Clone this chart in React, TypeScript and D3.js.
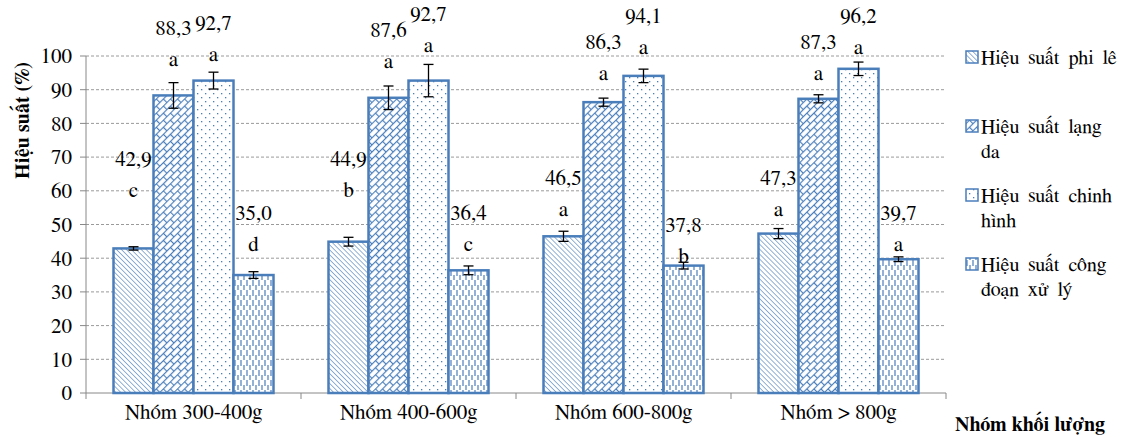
import React from "react";
import * as d3 from "d3";

const categories = ["Nhóm 300-400g", "Nhóm 400-600g", "Nhóm 600-800g", "Nhóm > 800g"];
const seriesNames = [
  ["Hiệu suất phi lê"],
  ["Hiệu suất lạng", "da"],
  ["Hiệu suất chinh", "hình"],
  ["Hiệu suất công", "đoạn xử lý"],
];
const yTicks = [0, 10, 20, 30, 40, 50, 60, 70, 80, 90, 100];

// values per series, one entry per group
const fillet = [42.9, 44.9, 46.5, 47.3];
const skinning = [88.3, 87.6, 86.3, 87.3];
const trimming = [92.7, 92.7, 94.1, 96.2];
const processing = [35.0, 36.4, 37.8, 39.7];

const filletErr = [0.5, 1.3, 1.5, 1.5];
const skinningErr = [3.8, 3.5, 1.2, 1.2];
const trimmingErr = [2.5, 4.8, 2.0, 2.0];
const processingErr = [1.0, 1.3, 1.0, 0.7];

const filletLetters = ["c", "b", "a", "a"];
const skinningLetters = ["a", "a", "a", "a"];
const trimmingLetters = ["a", "a", "a", "a"];
const processingLetters = ["d", "c", "b", "a"];

// where the data labels were dragged to (in % units)
const filletLabelAt = [69.4, 69.4, 63.8, 63.8];
const skinningLabelAt = [108.3, 107.7, 104.2, 104.2];
const trimmingLabelAt = [109.8, 112.5, 111.9, 111.9];
const processingLabelAt = [53.4, 53.4, 50.1, 53.4];

const series = [
  { values: fillet, err: filletErr, letters: filletLetters, labelAt: filletLabelAt, pat: "p-diag" },
  { values: skinning, err: skinningErr, letters: skinningLetters, labelAt: skinningLabelAt, pat: "p-brick" },
  { values: trimming, err: trimmingErr, letters: trimmingLetters, labelAt: trimmingLabelAt, pat: "p-dots" },
  { values: processing, err: processingErr, letters: processingLetters, labelAt: processingLabelAt, pat: "p-dash" },
];

const blue = "#4a7ebb";
const serifFont = `"FreeSerif", "Tinos", "Liberation Serif"`;
const tf = { fontFamily: serifFont };

const App = () => {
  const width = 1143, height = 439;
  const left = 86, right = 946, top = 56, bottom = 393;

  const x = d3.scaleBand().domain(categories).range([left, right]).padding(0);
  const barW = 40;
  const y = d3.scaleLinear().domain([0, 100]).range([bottom, top]);

  const fmt = (v: number) => v.toFixed(1).replace(".", ",");

  return (
    <svg width={width} height={height} style={{ position: "absolute", left: 0, top: 0, background: "#fff" }}>
      <defs>
        <pattern id="p-diag" width="3.5" height="3.5" patternUnits="userSpaceOnUse" patternTransform="rotate(-45)">
          <rect width="3.5" height="3.5" fill="#fff" />
          <line x1="0" y1="0" x2="0" y2="3.5" stroke={blue} strokeWidth="1.2" />
        </pattern>
        <pattern id="p-brick" width="10" height="10" patternUnits="userSpaceOnUse" patternTransform="rotate(-45)">
          <rect width="10" height="10" fill="#fff" />
          <line x1="0" y1="0.5" x2="10" y2="0.5" stroke={blue} strokeWidth="1.2" />
          <line x1="0" y1="5.5" x2="10" y2="5.5" stroke={blue} strokeWidth="1.2" />
          <line x1="0.5" y1="0" x2="0.5" y2="5" stroke={blue} strokeWidth="1.2" />
          <line x1="5.5" y1="5" x2="5.5" y2="10" stroke={blue} strokeWidth="1.2" />
        </pattern>
        <pattern id="p-dots" width="8" height="8" patternUnits="userSpaceOnUse">
          <rect width="8" height="8" fill="#fff" />
          <rect x="1" y="1" width="1.3" height="1.3" fill={blue} />
          <rect x="5" y="5" width="1.3" height="1.3" fill={blue} />
        </pattern>
        <pattern id="p-dash" width="6" height="10" patternUnits="userSpaceOnUse">
          <rect width="6" height="10" fill="#fff" />
          <line x1="1" y1="0" x2="1" y2="6" stroke={blue} strokeWidth="1.2" />
          <line x1="4" y1="5" x2="4" y2="10" stroke={blue} strokeWidth="1.2" />
        </pattern>
      </defs>

      {/* gridlines */}
      {yTicks.filter(t => t > 0).map(t => (
        <line key={t} x1={left} x2={right} y1={y(t)} y2={y(t)} stroke="#9a9a9a" strokeDasharray="3,2" strokeWidth="1" />
      ))}

      {/* y axis */}
      <line x1={left} x2={left} y1={top} y2={bottom} stroke="#888" />
      {yTicks.map(t => (
        <g key={t} transform={`translate(${left},${y(t)})`}>
          <line x1={-6} x2={0} stroke="#888" />
          <text x={-14} dy="0.35em" textAnchor="end" fontSize="21" style={tf}>{t}</text>
        </g>
      ))}

      {/* x axis */}
      <line x1={left} x2={right} y1={bottom} y2={bottom} stroke="#888" />
      {[...categories.map(c => x(c)!), right].map((v, i) => (
        <line key={i} x1={v} x2={v} y1={bottom} y2={bottom + 6} stroke="#888" />
      ))}
      {categories.map(c => (
        <text key={c} x={x(c)! + x.bandwidth() / 2} y={bottom + 26} textAnchor="middle" fontSize="21" style={tf}>{c}</text>
      ))}

      {/* bars */}
      {categories.map((c, gi) => {
        const start = x(c)! + (x.bandwidth() - barW * series.length) / 2;
        return series.map((s, si) => {
          const bx = start + si * barW;
          const v = s.values[gi];
          const e = s.err[gi];
          const cx = bx + barW / 2;
          const ly = y(s.labelAt[gi]);
          return (
            <g key={`${gi}-${si}`}>
              <rect x={bx} y={y(v)} width={barW} height={y(0) - y(v)} fill={`url(#${s.pat})`} stroke={blue} strokeWidth="2.5" />
              <line x1={cx} x2={cx} y1={y(v + e)} y2={y(v - e)} stroke="#000" strokeWidth="1.3" />
              <line x1={cx - 5} x2={cx + 5} y1={y(v + e)} y2={y(v + e)} stroke="#000" strokeWidth="1.3" />
              <line x1={cx - 5} x2={cx + 5} y1={y(v - e)} y2={y(v - e)} stroke="#000" strokeWidth="1.3" />
              <text x={cx} y={ly} dy="0.35em" textAnchor="middle" fontSize="21" style={tf}>{fmt(v)}</text>
              <text x={cx} y={ly + 31} dy="0.35em" textAnchor="middle" fontSize="21" style={tf}>{s.letters[gi]}</text>
            </g>
          );
        });
      })}

      {/* y title */}
      <text transform={`translate(22,${(top + 185) / 2}) rotate(-90)`} textAnchor="middle" dy="0.35em" fontSize="20" fontWeight="bold" style={tf}>Hiệu suất (%)</text>

      {/* x title */}
      <text x={1030} y={431} textAnchor="middle" fontSize="20" fontWeight="bold" style={tf}>Nhóm khối lượng</text>

      {/* legend */}
      {series.map((s, i) => {
        const ly = 57 + i * 69;
        return (
          <g key={i}>
            <rect x={966} y={ly - 6} width={12} height={12} fill={`url(#${s.pat})`} stroke={blue} strokeWidth="1.5" />
            {seriesNames[i].map((t, k) => (
              <text key={k} x={981} y={ly + k * 25} dy="0.35em" fontSize="20" wordSpacing="4" style={tf}>{t}</text>
            ))}
          </g>
        );
      })}
    </svg>
  );
};

export default App;
